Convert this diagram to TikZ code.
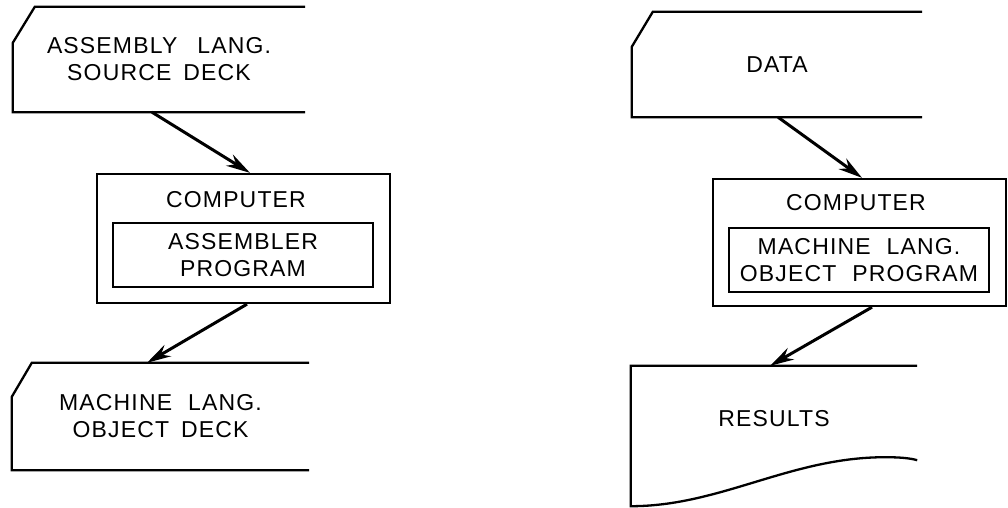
\documentclass[tikz,border=0pt]{standalone}
\usepackage{fontspec}
\setmainfont{Liberation Sans}[LetterSpace=5]
\usetikzlibrary{arrows.meta}
\newcommand{\wg}[1]{\hspace{#1pt}}
\tikzset{
  lbl/.style={font=\fontsize{23}{27}\selectfont, align=center, inner sep=0pt},
  sz/.style 2 args={inner sep=0pt, minimum width=#1pt, minimum height=#2pt},
  outline/.style={line width=2.3pt, line join=miter},
  innerbox/.style={draw, line width=1.8pt},
  flow/.style={line width=3pt, -{Stealth[length=24pt,width=13pt]}},
}
\begin{document}
\begin{tikzpicture}[x=1pt,y=-1pt]
\useasboundingbox (0,0) rectangle (1008,508);
% left column
\node[lbl, sz={292}{105}] (src) at (159,59.5) {ASSEMBLY\wg{20}LANG.\\SOURCE\wg{12}DECK};
\node[sz={293}{129}, draw, outline] (comp) at (243.5,238.5) {};
\node[lbl] (comptxt) at (236,200) {COMPUTER};
\node[lbl, sz={260}{64}, innerbox] (asm) at (243,255) {ASSEMBLER\\PROGRAM};
\node[lbl, sz={297}{107}] (obj) at (160.5,416.5) {MACHINE\wg{16}LANG.\\OBJECT\wg{12}DECK};
% right column
\node[lbl, sz={290}{105}] (data) at (777,64.5) {DATA};
\node[sz={293}{127}, draw, outline] (comp2) at (859.5,242.5) {};
\node[lbl] (comptxt2) at (856,202.5) {COMPUTER};
\node[lbl, sz={260}{64}, innerbox] (mlp) at (859,260) {MACHINE\wg{16}LANG.\\OBJECT\wg{16}PROGRAM};
\node[sz={286}{141}] (res) at (774,436.5) {};
\node[lbl] (restxt) at (774,418.5) {RESULTS};
% card outlines (open on the right)
\draw[outline] (src.north east) -- ([xshift=22pt]src.north west) -- ([yshift=-36pt]src.north west) -- (src.south west) -- (src.south east);
\draw[outline] (obj.north east) -- ([xshift=20pt]obj.north west) -- ([yshift=-34pt]obj.north west) -- (obj.south west) -- (obj.south east);
\draw[outline] (data.north east) -- ([xshift=21pt]data.north west) -- ([yshift=-35pt]data.north west) -- (data.south west) -- (data.south east);
% document shape
\draw[outline] (res.north east) -- (res.north west) -- ([yshift=1pt]res.south west)
  .. controls ([xshift=90pt,yshift=1pt]res.south west) and ([xshift=-127pt,yshift=50pt]res.south east) .. ([xshift=-32pt,yshift=50pt]res.south east)
  .. controls ([xshift=-17pt,yshift=50pt]res.south east) and ([xshift=-7pt,yshift=49pt]res.south east) .. ([yshift=47pt]res.south east);
% connectors
\draw[flow] ([xshift=-7pt]src.south) -- ([xshift=6.5pt]comp.north);
\draw[flow] ([xshift=3.5pt]comp.south) -- ([xshift=-13.5pt]obj.north);
\draw[flow] ([xshift=1pt]data.south) -- ([xshift=2.5pt]comp2.north);
\draw[flow] ([xshift=12.5pt]comp2.south) -- ([xshift=-4pt]res.north);
\end{tikzpicture}
\end{document}
